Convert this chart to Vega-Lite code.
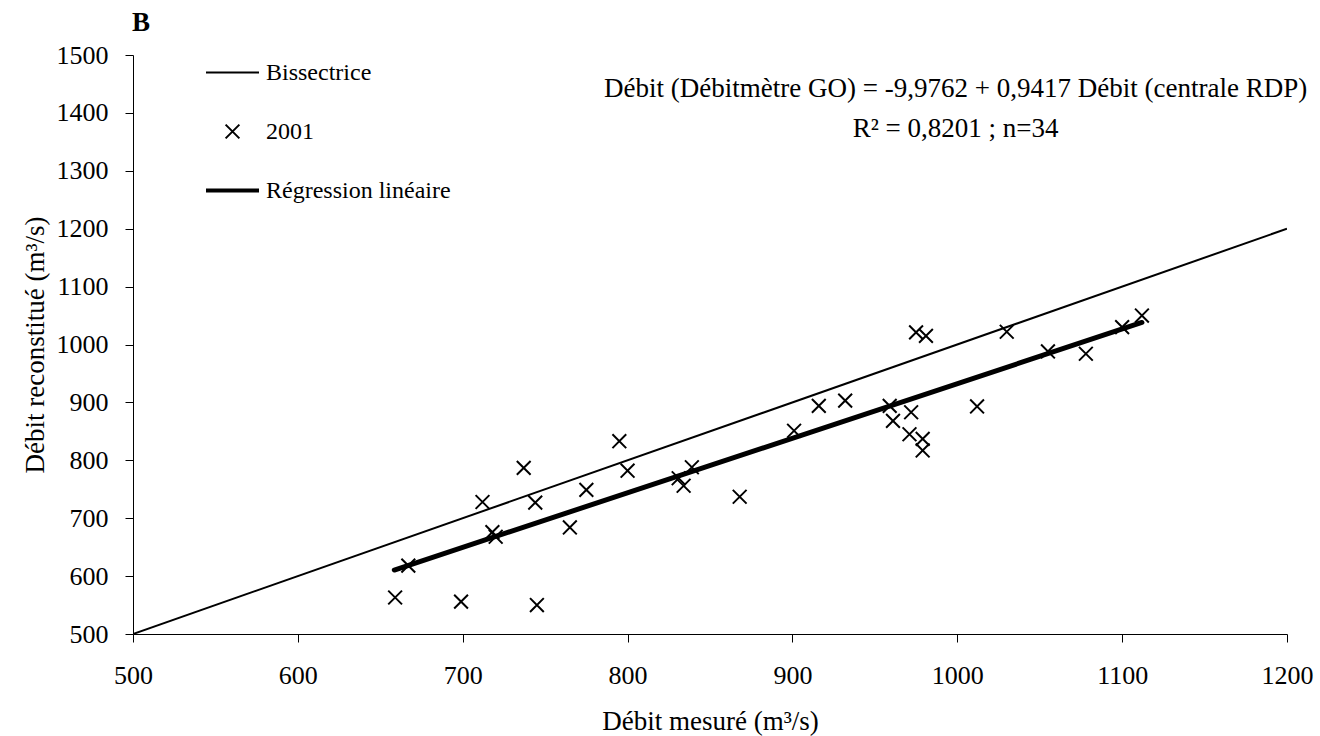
{
  "$schema": "https://vega.github.io/schema/vega-lite/v6.json",
  "width": 1154,
  "height": 579,
  "autosize": "none",
  "padding": {"left": 133, "top": 55, "right": 33, "bottom": 102},
  "background": "white",
  "title": {"text": "B", "anchor": "start", "frame": "group", "font": "Liberation Serif", "fontSize": 27, "fontWeight": "bold", "color": "black", "offset": 5, "dx": -1},
  "config": {
    "view": {"stroke": null},
    "font": "Liberation Serif",
    "axis": {"grid": false, "domainColor": "black", "domainWidth": 1, "tickColor": "black", "tickSize": 8, "labelFont": "Liberation Serif", "labelFontSize": 26, "labelColor": "black", "labelFlush": false, "labelOverlap": false, "format": "d", "titleFont": "Liberation Serif", "titleFontSize": 27, "titleFontWeight": "normal", "titleColor": "black"}
  },
  "datasets": {
    "points": [
      {"mesure": 659, "reconstitue": 563, "serie": "2001"},
      {"mesure": 699, "reconstitue": 556, "serie": "2001"},
      {"mesure": 745, "reconstitue": 550, "serie": "2001"},
      {"mesure": 667, "reconstitue": 618, "serie": "2001"},
      {"mesure": 712, "reconstitue": 728, "serie": "2001"},
      {"mesure": 718, "reconstitue": 676, "serie": "2001"},
      {"mesure": 720, "reconstitue": 668, "serie": "2001"},
      {"mesure": 737, "reconstitue": 787, "serie": "2001"},
      {"mesure": 744, "reconstitue": 727, "serie": "2001"},
      {"mesure": 765, "reconstitue": 684, "serie": "2001"},
      {"mesure": 775, "reconstitue": 749, "serie": "2001"},
      {"mesure": 795, "reconstitue": 833, "serie": "2001"},
      {"mesure": 800, "reconstitue": 782, "serie": "2001"},
      {"mesure": 831, "reconstitue": 769, "serie": "2001"},
      {"mesure": 834, "reconstitue": 756, "serie": "2001"},
      {"mesure": 839, "reconstitue": 788, "serie": "2001"},
      {"mesure": 868, "reconstitue": 737, "serie": "2001"},
      {"mesure": 901, "reconstitue": 851, "serie": "2001"},
      {"mesure": 916, "reconstitue": 894, "serie": "2001"},
      {"mesure": 932, "reconstitue": 903, "serie": "2001"},
      {"mesure": 959, "reconstitue": 894, "serie": "2001"},
      {"mesure": 961, "reconstitue": 868, "serie": "2001"},
      {"mesure": 972, "reconstitue": 883, "serie": "2001"},
      {"mesure": 971, "reconstitue": 845, "serie": "2001"},
      {"mesure": 979, "reconstitue": 837, "serie": "2001"},
      {"mesure": 979, "reconstitue": 817, "serie": "2001"},
      {"mesure": 975, "reconstitue": 1021, "serie": "2001"},
      {"mesure": 981, "reconstitue": 1015, "serie": "2001"},
      {"mesure": 1030, "reconstitue": 1022, "serie": "2001"},
      {"mesure": 1055, "reconstitue": 988, "serie": "2001"},
      {"mesure": 1078, "reconstitue": 984, "serie": "2001"},
      {"mesure": 1012, "reconstitue": 893, "serie": "2001"},
      {"mesure": 1100, "reconstitue": 1030, "serie": "2001"},
      {"mesure": 1112, "reconstitue": 1050, "serie": "2001"}
    ],
    "bissectrice": [
      {"mesure": 500, "reconstitue": 500},
      {"mesure": 1200, "reconstitue": 1200}
    ],
    "regression": [
      {"mesure": 658.5, "reconstitue": 610.5},
      {"mesure": 1112, "reconstitue": 1038}
    ],
    "equation": [
      {"texte": "Débit (Débitmètre GO) = -9,9762 + 0,9417 Débit (centrale RDP)\nR² = 0,8201 ; n=34"}
    ]
  },
  "layer": [
    {
      "data": {"name": "bissectrice"},
      "mark": {"type": "line", "color": "black", "strokeWidth": 2, "clip": true},
      "encoding": {
        "x": {"field": "mesure", "type": "quantitative", "scale": {"domain": [500, 1200], "nice": false, "zero": false},
              "axis": {"values": [500, 600, 700, 800, 900, 1000, 1100, 1200], "labelPadding": 20, "titlePadding": 20, "title": "Débit mesuré (m³/s)"}},
        "y": {"field": "reconstitue", "type": "quantitative", "scale": {"domain": [500, 1500], "nice": false, "zero": false},
              "axis": {"values": [500, 600, 700, 800, 900, 1000, 1100, 1200, 1300, 1400, 1500], "labelPadding": 17, "titlePadding": 7, "title": "Débit reconstitué (m³/s)"}}
      }
    },
    {
      "data": {"name": "regression"},
      "mark": {"type": "line", "color": "black", "strokeWidth": 5, "strokeCap": "round"},
      "encoding": {
        "x": {"field": "mesure", "type": "quantitative"},
        "y": {"field": "reconstitue", "type": "quantitative"}
      }
    },
    {
      "data": {"name": "points"},
      "mark": {"type": "point", "filled": false, "color": "black", "strokeWidth": 2, "size": 2809, "opacity": 1},
      "encoding": {
        "x": {"field": "mesure", "type": "quantitative"},
        "y": {"field": "reconstitue", "type": "quantitative"},
        "shape": {
          "field": "serie", "type": "nominal",
          "scale": {"domain": ["Bissectrice", "2001", "Régression linéaire"],
                    "range": ["M-1,0H1", "M-0.26,-0.26L0.26,0.26M-0.26,0.26L0.26,-0.26", "M-1,-0.04H1M-1,0H1M-1,0.04H1"]},
          "legend": {"orient": "none", "legendX": 72, "legendY": -10, "title": null, "symbolSize": 2809, "symbolStrokeWidth": 2, "symbolStrokeColor": "black", "symbolFillColor": "transparent", "labelFont": "Liberation Serif", "labelFontSize": 24, "labelColor": "black", "labelOffset": 6, "rowPadding": 19, "padding": 0, "labelLimit": 400}
        }
      }
    },
    {
      "data": {"name": "equation"},
      "mark": {"type": "text", "font": "Liberation Serif", "fontSize": 27, "color": "black", "align": "center", "baseline": "middle", "lineBreak": "\n", "lineHeight": 40},
      "encoding": {
        "x": {"datum": 999, "type": "quantitative"},
        "y": {"datum": 1442, "type": "quantitative"},
        "text": {"field": "texte", "type": "nominal"}
      }
    }
  ]
}
